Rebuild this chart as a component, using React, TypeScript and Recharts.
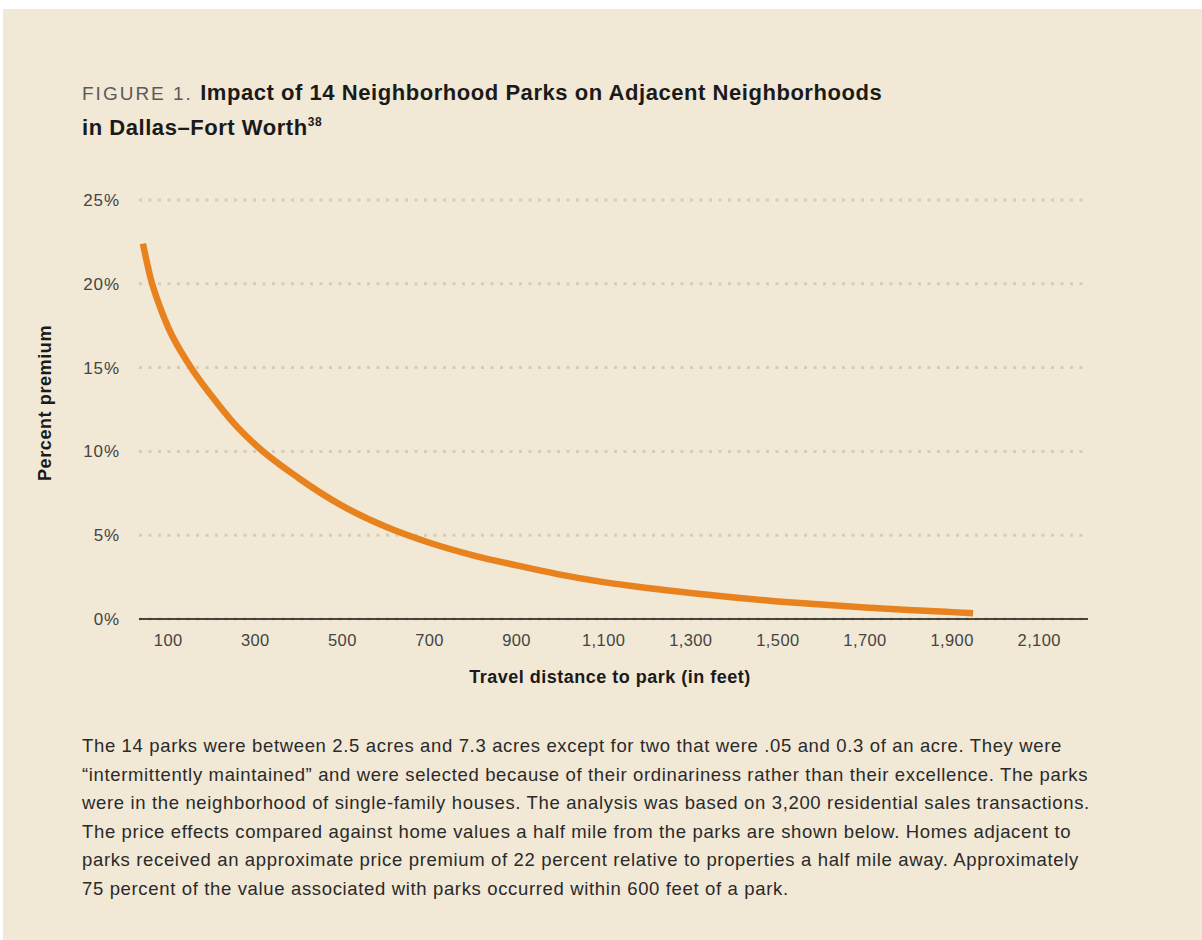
import React from "react";
import { LineChart, Line, XAxis, YAxis, CartesianGrid } from "recharts";

const distanceFeet = [42, 60, 80, 100, 150, 200, 250, 300, 400, 500, 600, 700, 800, 900, 1000, 1100, 1200, 1300, 1400, 1500, 1600, 1700, 1800, 1900, 1948];
const premiumPct = [22.4, 20.3, 18.7, 17.4, 15.1, 13.3, 11.7, 10.4, 8.4, 6.75, 5.5, 4.55, 3.8, 3.2, 2.65, 2.2, 1.85, 1.55, 1.28, 1.05, 0.86, 0.69, 0.54, 0.41, 0.35];
const xTicks = [100, 300, 500, 700, 900, 1100, 1300, 1500, 1700, 1900, 2100];
const yTicks = [0, 5, 10, 15, 20, 25];

const data = distanceFeet.map((d, i) => ({ d, v: premiumPct[i] }));

const paragraphLines = [
  "The 14 parks were between 2.5 acres and 7.3 acres except for two that were .05 and 0.3 of an acre. They were",
  "\u201cintermittently maintained\u201d and were selected because of their ordinariness rather than their excellence. The parks",
  "were in the neighborhood of single-family houses. The analysis was based on 3,200 residential sales transactions.",
  "The price effects compared against home values a half mile from the parks are shown below. Homes adjacent to",
  "parks received an approximate price premium of 22 percent relative to properties a half mile away. Approximately",
  "75 percent of the value associated with parks occurred within 600 feet of a park.",
];

const FONT = "'Liberation Sans', Arial, Helvetica, sans-serif";

export default function App() {
  return (
    <div style={{ position: "absolute", left: 0, top: 0, width: 1202, height: 940, background: "#ffffff", fontFamily: FONT, overflow: "hidden" }}>
      <div style={{ position: "absolute", left: 3, top: 9, width: 1199, height: 931, background: "#F1E8D5" }} />
      <div style={{ position: "absolute", left: 82, top: 76, fontSize: 22, lineHeight: "34px", color: "#1a1a1a", whiteSpace: "nowrap" }}>
        <div>
          <span style={{ color: "#5a5a5a", letterSpacing: 2, fontWeight: 400, fontSize: 19 }}>FIGURE 1. </span>
          <span style={{ fontWeight: 700, letterSpacing: 0.55 }}>Impact of 14 Neighborhood Parks on Adjacent Neighborhoods</span>
        </div>
        <div style={{ fontWeight: 700, letterSpacing: 0.55 }}>
          in Dallas–Fort Worth<sup style={{ fontSize: 12, verticalAlign: "9px", lineHeight: 0 }}>38</sup>
        </div>
      </div>
      <div style={{ position: "absolute", left: 0, top: 0 }}>
        <LineChart width={1202} height={700} data={data} margin={{ top: 200, right: 114, bottom: 0, left: 0 }}>
          <CartesianGrid vertical={false} stroke="#D6CDB6" strokeWidth={3} strokeDasharray="3 6.5" />
          <XAxis
            dataKey="d"
            type="number"
            domain={[33, 2212]}
            ticks={xTicks}
            tickFormatter={(v: number) => v.toLocaleString("en-US")}
            stroke="#111"
            strokeWidth={1.6}
            tickLine={false}
            tickMargin={9}
            height={81}
            tick={{ fill: "#444", fontSize: 16.5, fontFamily: FONT, letterSpacing: 0.4 }}
            interval={0}
          />
          <YAxis
            type="number"
            domain={[0, 25]}
            ticks={yTicks}
            tickFormatter={(v: number) => `${v}%`}
            axisLine={false}
            tickLine={false}
            tickMargin={13}
            width={139}
            tick={{ fill: "#444", fontSize: 17, fontFamily: FONT, letterSpacing: 0.9 }}
            interval={0}
          />
          <Line type="monotone" dataKey="v" stroke="#E8821F" strokeWidth={6.5} dot={false} isAnimationActive={false} />
        </LineChart>
      </div>
      <div style={{ position: "absolute", left: 45, top: 403, transform: "translate(-50%, -50%) rotate(-90deg)", fontSize: 18, letterSpacing: 0.6, fontWeight: 700, color: "#1a1a1a", whiteSpace: "nowrap" }}>
        Percent premium
      </div>
      <div style={{ position: "absolute", left: 610, top: 677, transform: "translate(-50%, -50%)", fontSize: 18, letterSpacing: 0.5, fontWeight: 700, color: "#1a1a1a", whiteSpace: "nowrap" }}>
        Travel distance to park (in feet)
      </div>
      <div style={{ position: "absolute", left: 82, top: 732, fontSize: 18.5, letterSpacing: 0.65, lineHeight: "28.6px", color: "#2a2a2a", whiteSpace: "nowrap" }}>
        {paragraphLines.map((l, i) => (
          <div key={i}>{l}</div>
        ))}
      </div>
    </div>
  );
}
